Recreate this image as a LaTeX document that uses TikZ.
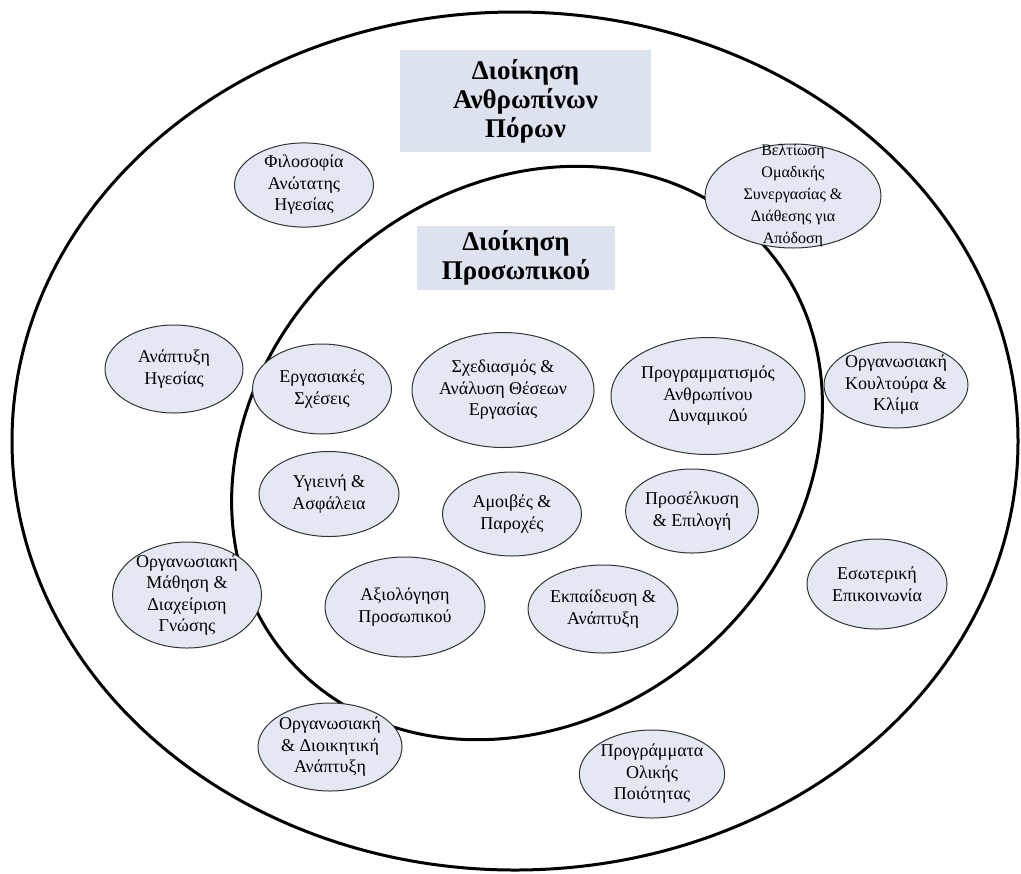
\documentclass[tikz,border=0pt]{standalone}
\usepackage{fontspec}
\setmainfont{Liberation Serif}
\usetikzlibrary{shapes.geometric}
\definecolor{titlefill}{HTML}{DCE3EE}
\definecolor{itemfill}{HTML}{E3E8F3}
\definecolor{rim}{HTML}{333333}
\tikzset{ring/.style={line width=1.5pt, color=black}, title/.style={fill=titlefill, inner sep=0pt, align=center, font=\fontsize{13.5}{14.5}\selectfont\bfseries}, item/.style={ellipse, draw=rim, line width=.5pt, fill=itemfill, inner sep=0pt, align=center, font=\fontsize{9}{10.75}\selectfont}, small/.style={font=\fontsize{8}{11}\selectfont}}

\begin{document}
\begin{tikzpicture}[x=.5pt, y=-.5pt]
\useasboundingbox (0,0) rectangle (1021,873);
\draw[ring] (515,441) ellipse [x radius=503, y radius=429];
\draw[ring, rotate around={40:(527,453)}] (527,453) ellipse [x radius=315, y radius=265];
\node[title, minimum width=125.5pt, minimum height=51pt] (hrm) at (525.5,101) {Διοίκηση\\Ανθρωπίνων\\Πόρων};
\node[title, minimum width=99pt, minimum height=32pt] (staff) at (516,258) {Διοίκηση\\Προσωπικού};
\node[item, minimum width=69.5pt, minimum height=40pt] (filosofia) at (304,185) {Φιλοσοφία\\Ανώτατης\\Ηγεσίας};
\node[item, small, inner ysep=-8pt, minimum width=88pt, minimum height=52pt] (veltiosi) at (793,196) {Βελτίωση\\Ομαδικής\\Συνεργασίας \&\\Διάθεσης για\\Απόδοση};
\node[item, minimum width=69pt, minimum height=44pt] (igesia) at (174,369) {Ανάπτυξη\\Ηγεσίας};
\node[item, minimum width=69.5pt, minimum height=45pt] (ergasiakes) at (322,389) {Εργασιακές\\Σχέσεις};
\node[item, minimum width=91pt, minimum height=57.5pt] (sxediasmos) at (503,390) {Σχεδιασμός \&\\Ανάλυση Θέσεων\\Εργασίας};
\node[item, minimum width=97pt, minimum height=58.5pt] (programmatismos) at (708,396) {Προγραμματισμός\\Ανθρωπίνου\\Δυναμικού};
\node[item, minimum width=71.5pt, minimum height=43pt] (koultoura) at (896,385) {Οργανωσιακή\\Κουλτούρα \&\\Κλίμα};
\node[item, minimum width=70pt, minimum height=42.5pt] (ygieini) at (329,494) {Υγιεινή \&\\Ασφάλεια};
\node[item, minimum width=69.5pt, minimum height=42pt] (amoives) at (512,514) {Αμοιβές \&\\Παροχές};
\node[item, minimum width=65pt, minimum height=42pt] (proselkysi) at (692,511) {Προσέλκυση\\\& Επιλογή};
\node[item, inner ysep=-3pt, minimum width=74.5pt, minimum height=53pt] (mathisi) at (187,595) {Οργανωσιακή\\Μάθηση \&\\Διαχείριση\\Γνώσης};
\node[item, minimum width=80pt, minimum height=50pt] (axiologisi) at (405,607) {Αξιολόγηση\\Προσωπικού};
\node[item, minimum width=74.5pt, minimum height=44pt] (ekpaideusi) at (603,609) {Εκπαίδευση \&\\Ανάπτυξη};
\node[item, minimum width=70pt, minimum height=45pt] (epikoinonia) at (877,584) {Εσωτερική\\Επικοινωνία};
\node[item, minimum width=70pt, minimum height=44pt] (anaptyxi) at (330,747) {Οργανωσιακή\\\& Διοικητική\\Ανάπτυξη};
\node[item, minimum width=70pt, minimum height=44pt] (poiotita) at (652,774) {Προγράμματα\\Ολικής\\Ποιότητας};
\end{tikzpicture}
\end{document}
